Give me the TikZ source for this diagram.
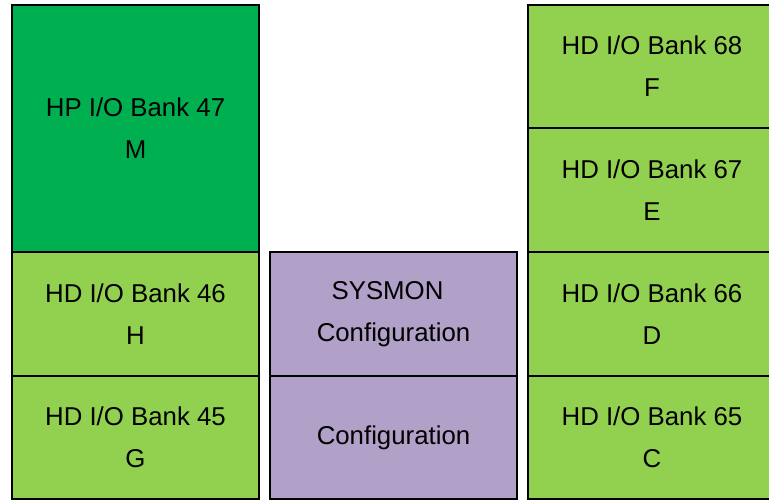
\documentclass[tikz,border=0pt]{standalone}
\usepackage{fontspec}
\setmainfont{Liberation Sans}
\definecolor{hpgreen}{HTML}{00B050}
\definecolor{hdgreen}{HTML}{92D050}
\definecolor{cfgpurple}{HTML}{B1A0C7}
\begin{document}
\begin{tikzpicture}[x=1pt,y=-1pt,
  bank/.style={draw=black, line width=2.8pt, rectangle, anchor=north west,
    inner sep=0pt, outer sep=0pt, align=center, text=black,
    font=\fontsize{25.8}{42}\selectfont},
  hp/.style={bank, fill=hpgreen},
  hd/.style={bank, fill=hdgreen},
  cfg/.style={bank, fill=cfgpurple}]
\useasboundingbox (0,0) rectangle (769,501);
\clip (0,0) rectangle (769,501);
% left column
\node[hp, minimum width=247pt, minimum height=247pt] (b47) at (12,5) {HP I/O Bank 47\\M};
\node[hd, minimum width=247pt, minimum height=124pt] (b46) at (12,252) {HD I/O Bank 46\\H};
\node[hd, minimum width=247pt, minimum height=123pt] (b45) at (12,376) {HD I/O Bank 45\\G};
% middle column
\node[cfg, minimum width=247pt, minimum height=124pt] (sysmon) at (270,252) {SYSMON\kern12pt\\Configuration};
\node[cfg, minimum width=247pt, minimum height=123pt] (config) at (270,376) {Configuration};
% right column (runs past the right edge)
\node[hd, minimum width=248pt, minimum height=123pt] (b68) at (528,5) {HD I/O Bank 68\\F};
\node[hd, minimum width=248pt, minimum height=124pt] (b67) at (528,128) {HD I/O Bank 67\\E};
\node[hd, minimum width=248pt, minimum height=124pt] (b66) at (528,252) {HD I/O Bank 66\\D};
\node[hd, minimum width=248pt, minimum height=123pt] (b65) at (528,376) {HD I/O Bank 65\\C};
\end{tikzpicture}
\end{document}
